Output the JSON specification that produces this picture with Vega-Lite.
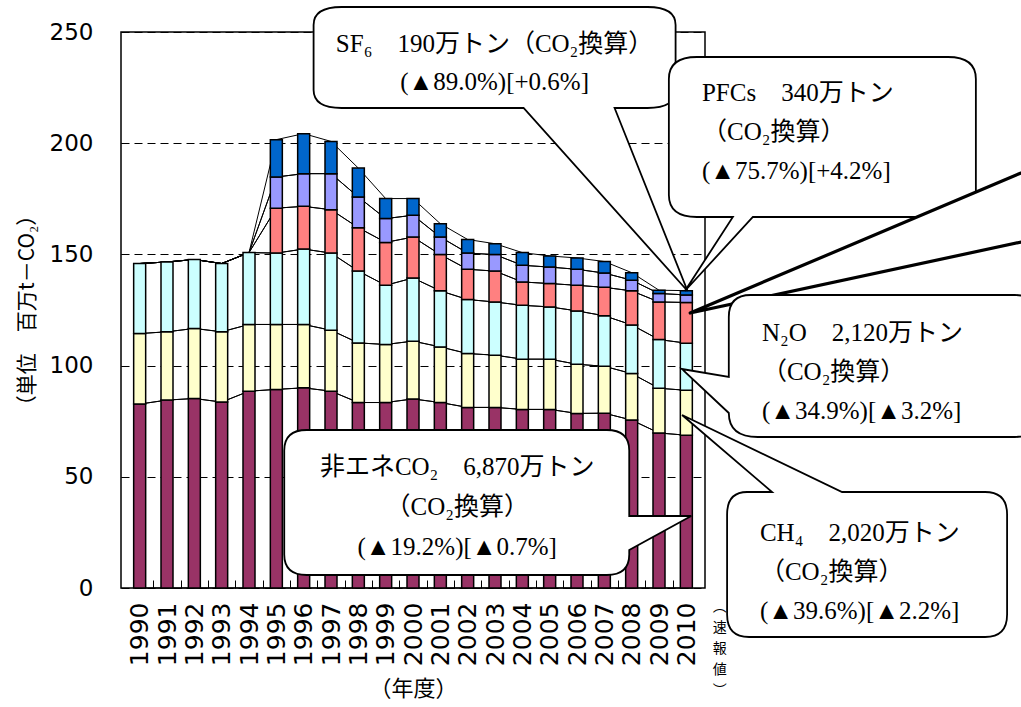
{
  "$schema": "https://vega.github.io/schema/vega-lite/v6.json",
  "width": 584,
  "height": 556,
  "autosize": {"type": "none"},
  "padding": {"left": 121, "top": 32, "right": 316, "bottom": 119},
  "background": "white",
  "config": {
    "view": {"stroke": "black", "strokeWidth": 1.5},
    "axis": {"labelColor": "black", "titleColor": "black", "tickColor": "black"}
  },
  "resolve": {"axis": {"x": "independent", "y": "independent"}},
  "datasets": {
    "ghg": [
      {"year": 1990, "g": "非エネCO₂", "k": 1, "v": 82.7}, {"year": 1990, "g": "CH₄", "k": 2, "v": 31.7}, {"year": 1990, "g": "N₂O", "k": 3, "v": 31.5},
      {"year": 1991, "g": "非エネCO₂", "k": 1, "v": 84.5}, {"year": 1991, "g": "CH₄", "k": 2, "v": 30.7}, {"year": 1991, "g": "N₂O", "k": 3, "v": 31.4},
      {"year": 1992, "g": "非エネCO₂", "k": 1, "v": 85.2}, {"year": 1992, "g": "CH₄", "k": 2, "v": 31.5}, {"year": 1992, "g": "N₂O", "k": 3, "v": 31.0},
      {"year": 1993, "g": "非エネCO₂", "k": 1, "v": 83.6}, {"year": 1993, "g": "CH₄", "k": 2, "v": 31.6}, {"year": 1993, "g": "N₂O", "k": 3, "v": 30.7},
      {"year": 1994, "g": "非エネCO₂", "k": 1, "v": 88.5}, {"year": 1994, "g": "CH₄", "k": 2, "v": 30.0}, {"year": 1994, "g": "N₂O", "k": 3, "v": 32.3},
      {"year": 1994, "g": "HFCs", "k": 4, "v": 0}, {"year": 1994, "g": "PFCs", "k": 5, "v": 0}, {"year": 1994, "g": "SF₆", "k": 6, "v": 0},
      {"year": 1995, "g": "非エネCO₂", "k": 1, "v": 89.3}, {"year": 1995, "g": "CH₄", "k": 2, "v": 29.2}, {"year": 1995, "g": "N₂O", "k": 3, "v": 32.1},
      {"year": 1995, "g": "HFCs", "k": 4, "v": 20.2}, {"year": 1995, "g": "PFCs", "k": 5, "v": 14.0}, {"year": 1995, "g": "SF₆", "k": 6, "v": 16.8},
      {"year": 1996, "g": "非エネCO₂", "k": 1, "v": 90.0}, {"year": 1996, "g": "CH₄", "k": 2, "v": 28.5}, {"year": 1996, "g": "N₂O", "k": 3, "v": 33.9},
      {"year": 1996, "g": "HFCs", "k": 4, "v": 19.2}, {"year": 1996, "g": "PFCs", "k": 5, "v": 14.7}, {"year": 1996, "g": "SF₆", "k": 6, "v": 18.0},
      {"year": 1997, "g": "非エネCO₂", "k": 1, "v": 88.5}, {"year": 1997, "g": "CH₄", "k": 2, "v": 27.4}, {"year": 1997, "g": "N₂O", "k": 3, "v": 34.7},
      {"year": 1997, "g": "HFCs", "k": 4, "v": 19.5}, {"year": 1997, "g": "PFCs", "k": 5, "v": 16.2}, {"year": 1997, "g": "SF₆", "k": 6, "v": 14.5},
      {"year": 1998, "g": "非エネCO₂", "k": 1, "v": 83.4}, {"year": 1998, "g": "CH₄", "k": 2, "v": 26.8}, {"year": 1998, "g": "N₂O", "k": 3, "v": 32.3},
      {"year": 1998, "g": "HFCs", "k": 4, "v": 19.5}, {"year": 1998, "g": "PFCs", "k": 5, "v": 13.8}, {"year": 1998, "g": "SF₆", "k": 6, "v": 13.0},
      {"year": 1999, "g": "非エネCO₂", "k": 1, "v": 83.4}, {"year": 1999, "g": "CH₄", "k": 2, "v": 26.1}, {"year": 1999, "g": "N₂O", "k": 3, "v": 26.6},
      {"year": 1999, "g": "HFCs", "k": 4, "v": 19.3}, {"year": 1999, "g": "PFCs", "k": 5, "v": 10.7}, {"year": 1999, "g": "SF₆", "k": 6, "v": 9.0},
      {"year": 2000, "g": "非エネCO₂", "k": 1, "v": 85.0}, {"year": 2000, "g": "CH₄", "k": 2, "v": 26.0}, {"year": 2000, "g": "N₂O", "k": 3, "v": 28.4},
      {"year": 2000, "g": "HFCs", "k": 4, "v": 18.4}, {"year": 2000, "g": "PFCs", "k": 5, "v": 9.8}, {"year": 2000, "g": "SF₆", "k": 6, "v": 7.5},
      {"year": 2001, "g": "非エネCO₂", "k": 1, "v": 83.4}, {"year": 2001, "g": "CH₄", "k": 2, "v": 25.0}, {"year": 2001, "g": "N₂O", "k": 3, "v": 25.2},
      {"year": 2001, "g": "HFCs", "k": 4, "v": 16.3}, {"year": 2001, "g": "PFCs", "k": 5, "v": 7.9}, {"year": 2001, "g": "SF₆", "k": 6, "v": 6.0},
      {"year": 2002, "g": "非エネCO₂", "k": 1, "v": 81.2}, {"year": 2002, "g": "CH₄", "k": 2, "v": 24.2}, {"year": 2002, "g": "N₂O", "k": 3, "v": 24.3},
      {"year": 2002, "g": "HFCs", "k": 4, "v": 13.6}, {"year": 2002, "g": "PFCs", "k": 5, "v": 7.3}, {"year": 2002, "g": "SF₆", "k": 6, "v": 6.1},
      {"year": 2003, "g": "非エネCO₂", "k": 1, "v": 81.2}, {"year": 2003, "g": "CH₄", "k": 2, "v": 23.5}, {"year": 2003, "g": "N₂O", "k": 3, "v": 23.9},
      {"year": 2003, "g": "HFCs", "k": 4, "v": 13.9}, {"year": 2003, "g": "PFCs", "k": 5, "v": 7.4}, {"year": 2003, "g": "SF₆", "k": 6, "v": 4.9},
      {"year": 2004, "g": "非エネCO₂", "k": 1, "v": 80.3}, {"year": 2004, "g": "CH₄", "k": 2, "v": 22.6}, {"year": 2004, "g": "N₂O", "k": 3, "v": 24.2},
      {"year": 2004, "g": "HFCs", "k": 4, "v": 10.5}, {"year": 2004, "g": "PFCs", "k": 5, "v": 7.5}, {"year": 2004, "g": "SF₆", "k": 6, "v": 5.7},
      {"year": 2005, "g": "非エネCO₂", "k": 1, "v": 80.3}, {"year": 2005, "g": "CH₄", "k": 2, "v": 22.6}, {"year": 2005, "g": "N₂O", "k": 3, "v": 23.5},
      {"year": 2005, "g": "HFCs", "k": 4, "v": 10.5}, {"year": 2005, "g": "PFCs", "k": 5, "v": 7.4}, {"year": 2005, "g": "SF₆", "k": 6, "v": 5.0},
      {"year": 2006, "g": "非エネCO₂", "k": 1, "v": 78.5}, {"year": 2006, "g": "CH₄", "k": 2, "v": 22.1}, {"year": 2006, "g": "N₂O", "k": 3, "v": 24.0},
      {"year": 2006, "g": "HFCs", "k": 4, "v": 11.5}, {"year": 2006, "g": "PFCs", "k": 5, "v": 7.2}, {"year": 2006, "g": "SF₆", "k": 6, "v": 5.1},
      {"year": 2007, "g": "非エネCO₂", "k": 1, "v": 78.6}, {"year": 2007, "g": "CH₄", "k": 2, "v": 21.1}, {"year": 2007, "g": "N₂O", "k": 3, "v": 22.7},
      {"year": 2007, "g": "HFCs", "k": 4, "v": 12.8}, {"year": 2007, "g": "PFCs", "k": 5, "v": 6.4}, {"year": 2007, "g": "SF₆", "k": 6, "v": 5.2},
      {"year": 2008, "g": "非エネCO₂", "k": 1, "v": 75.5}, {"year": 2008, "g": "CH₄", "k": 2, "v": 20.9}, {"year": 2008, "g": "N₂O", "k": 3, "v": 21.9},
      {"year": 2008, "g": "HFCs", "k": 4, "v": 15.3}, {"year": 2008, "g": "PFCs", "k": 5, "v": 4.8}, {"year": 2008, "g": "SF₆", "k": 6, "v": 3.4},
      {"year": 2009, "g": "非エネCO₂", "k": 1, "v": 69.7}, {"year": 2009, "g": "CH₄", "k": 2, "v": 20.1}, {"year": 2009, "g": "N₂O", "k": 3, "v": 21.9},
      {"year": 2009, "g": "HFCs", "k": 4, "v": 16.9}, {"year": 2009, "g": "PFCs", "k": 5, "v": 3.8}, {"year": 2009, "g": "SF₆", "k": 6, "v": 1.5},
      {"year": 2010, "g": "非エネCO₂", "k": 1, "v": 68.7}, {"year": 2010, "g": "CH₄", "k": 2, "v": 20.2}, {"year": 2010, "g": "N₂O", "k": 3, "v": 21.2},
      {"year": 2010, "g": "HFCs", "k": 4, "v": 18.3}, {"year": 2010, "g": "PFCs", "k": 5, "v": 3.4}, {"year": 2010, "g": "SF₆", "k": 6, "v": 1.9}
    ]
  },
  "layer": [
    {
      "data": {"name": "ghg"},
      "mark": {"type": "area", "fillOpacity": 0, "stroke": "black", "strokeWidth": 1},
      "encoding": {
        "x": {"field": "year", "type": "quantitative",
              "axis": {"orient": "bottom", "values": [1990.5,1991.5,1992.5,1993.5,1994.5,1995.5,1996.5,1997.5,1998.5,1999.5,2000.5,2001.5,2002.5,2003.5,2004.5,2005.5,2006.5,2007.5,2008.5,2009.5],
                       "labels": false, "domain": false, "grid": false, "ticks": true, "tickSize": -8, "tickWidth": 1, "title": null}},
        "y": {"field": "v", "type": "quantitative", "stack": "zero",
              "axis": {"orient": "left", "values": [50, 100, 150, 200], "labels": false, "domain": false, "grid": false, "ticks": true, "tickSize": -6, "tickWidth": 1, "title": null}},
        "detail": {"field": "k", "type": "ordinal"},
        "order": {"field": "k", "type": "quantitative"}
      }
    },
    {
      "data": {"name": "ghg"},
      "transform": [{"filter": "datum.v > 0"}],
      "mark": {"type": "bar", "size": 12, "stroke": "black", "strokeWidth": 1.5},
      "encoding": {
        "x": {"field": "year", "type": "quantitative",
              "scale": {"domain": [1989.5, 2010.5], "nice": false, "zero": false},
              "axis": {"orient": "bottom", "values": [1990,1991,1992,1993,1994,1995,1996,1997,1998,1999,2000,2001,2002,2003,2004,2005,2006,2007,2008,2009,2010],
                       "format": "d", "labelAngle": -90, "labelFlush": false, "labelOverlap": false, "labelFont": "DejaVu Sans", "labelFontSize": 25,
                       "labelPadding": 14, "ticks": false, "domain": false, "grid": false,
                       "title": "（年度）", "titleFont": "Noto Sans CJK JP", "titleFontSize": 22, "titleFontWeight": "normal", "titlePadding": 13}},
        "y": {"field": "v", "type": "quantitative", "stack": "zero",
              "scale": {"domain": [0, 250], "nice": false, "zero": true},
              "axis": {"orient": "left", "values": [0, 50, 100, 150, 200, 250], "labelFont": "DejaVu Sans", "labelFontSize": 23, "labelPadding": 28,
                       "ticks": false, "domain": false, "grid": true, "gridColor": "black", "gridDash": [8, 5], "gridWidth": 1,
                       "title": "（単位　百万t－CO₂）", "titleFont": "Noto Sans CJK JP", "titleFontSize": 21, "titleFontWeight": "normal", "titlePadding": 12}},
        "color": {"field": "g", "type": "nominal",
                  "scale": {"domain": ["非エネCO₂", "CH₄", "N₂O", "HFCs", "PFCs", "SF₆"],
                            "range": ["#993366", "#FFFFCC", "#CCFFFF", "#FF8080", "#9999FF", "#0066CC"]},
                  "legend": null},
        "order": {"field": "k", "type": "quantitative"}
      }
    },
    {
      "data": {"values": [{}]},
      "mark": {"type": "point", "size": 4, "filled": true, "fill": "white", "stroke": "black", "strokeWidth": 1.8, "opacity": 1,
               "shape": "M -153 -50.5 L 153 -50.5 Q 181 -50.5 181 -32.5 L 181 32.5 Q 181 50.5 153 50.5 L 120 50.5 L 193 233.5 L 29 50.5 L -153 50.5 Q -181 50.5 -181 32.5 L -181 -32.5 Q -181 -50.5 -153 -50.5 Z"},
      "encoding": {"x": {"datum": 2002.985, "type": "quantitative", "axis": null}, "y": {"datum": 238.53, "type": "quantitative", "axis": null}}
    },
    {
      "data": {"values": [{}]},
      "mark": {"type": "point", "size": 4, "filled": true, "fill": "white", "stroke": "black", "strokeWidth": 1.8, "opacity": 1,
               "shape": "M -125.5 -80 L 125.5 -80 Q 153.5 -80 153.5 -58 L 153.5 58 Q 153.5 80 125.5 80 L -69.5 80 L -137.5 154 L -89.5 80 L -125.5 80 Q -153.5 80 -153.5 58 L -153.5 -58 Q -153.5 -80 -125.5 -80 Z"},
      "encoding": {"x": {"datum": 2014.977, "type": "quantitative", "axis": null}, "y": {"datum": 202.79, "type": "quantitative", "axis": null}}
    },
    {
      "data": {"values": [{}]},
      "mark": {"type": "point", "size": 4, "filled": true, "fill": "white", "stroke": "black", "strokeWidth": 3.2, "strokeJoin": "round", "opacity": 1,
               "shape": "M 0 0 L 345 -146 L 345 -74 Z"},
      "encoding": {"x": {"datum": 2010.14, "type": "quantitative", "axis": null}, "y": {"datum": 123.65, "type": "quantitative", "axis": null}}
    },
    {
      "data": {"values": [{}]},
      "mark": {"type": "point", "size": 4, "filled": true, "fill": "white", "stroke": "black", "strokeWidth": 1.8, "opacity": 1,
               "shape": "M -132 -71 L 132 -71 Q 154 -71 154 -49 L 154 49 Q 154 71 132 71 L -125 71 Q -154 71 -154 47 L -201 3 L -154 11 L -154 -49 Q -154 -71 -132 -71 Z"},
      "encoding": {"x": {"datum": 2017.188, "type": "quantitative", "axis": null}, "y": {"datum": 99.82, "type": "quantitative", "axis": null}}
    },
    {
      "data": {"values": [{}]},
      "mark": {"type": "point", "size": 4, "filled": true, "fill": "white", "stroke": "black", "strokeWidth": 1.8, "opacity": 1,
               "shape": "M -120 -72.5 L -95 -72.5 L -185 -149.5 L -25 -72.5 L 118 -72.5 Q 140 -72.5 140 -50 L 140 50 Q 140 72.5 118 72.5 L -118 72.5 Q -140 72.5 -140 50 L -140 -50 Q -140 -72.5 -120 -72.5 Z"},
      "encoding": {"x": {"datum": 2016.613, "type": "quantitative", "axis": null}, "y": {"datum": 10.57, "type": "quantitative", "axis": null}}
    },
    {
      "data": {"values": [{}]},
      "mark": {"type": "point", "size": 4, "filled": true, "fill": "white", "stroke": "black", "strokeWidth": 1.8, "opacity": 1,
               "shape": "M -150 -72.5 L 150 -72.5 Q 172.5 -72.5 172.5 -52 L 172.5 13.5 L 234.5 13.5 L 172.5 47.5 L 172.5 52 Q 172.5 72.5 150 72.5 L -150 72.5 Q -172.5 72.5 -172.5 52 L -172.5 -52 Q -172.5 -72.5 -150 -72.5 Z"},
      "encoding": {"x": {"datum": 2001.6, "type": "quantitative", "axis": null}, "y": {"datum": 38.44, "type": "quantitative", "axis": null}}
    },
    {
      "data": {"values": [{}]},
      "mark": {"type": "text", "align": "center", "baseline": "middle", "fontSize": 25, "lineHeight": 38, "color": "black",
               "font": "'Liberation Serif', 'Noto Sans CJK JP', 'DejaVu Serif'",
               "text": ["SF₆　190万トン（CO₂換算）", "(▲89.0%)[+0.6%]"]},
      "encoding": {"x": {"datum": 2002.985, "type": "quantitative", "axis": null}, "y": {"datum": 244.6, "type": "quantitative", "axis": null}}
    },
    {
      "data": {"values": [{}]},
      "mark": {"type": "text", "align": "left", "baseline": "middle", "fontSize": 25, "lineHeight": 39, "color": "black",
               "font": "'Liberation Serif', 'Noto Sans CJK JP', 'DejaVu Serif'",
               "text": ["PFCs　340万トン", "（CO₂換算）", "(▲75.7%)[+4.2%]"]},
      "encoding": {"x": {"datum": 2010.572, "type": "quantitative", "axis": null}, "y": {"datum": 222.57, "type": "quantitative", "axis": null}}
    },
    {
      "data": {"values": [{}]},
      "mark": {"type": "text", "align": "left", "baseline": "middle", "fontSize": 25, "lineHeight": 39, "color": "black",
               "font": "'Liberation Serif', 'Noto Sans CJK JP', 'DejaVu Serif'",
               "text": ["N₂O　2,120万トン", "（CO₂換算）", "(▲34.9%)[▲3.2%]"]},
      "encoding": {"x": {"datum": 2012.765, "type": "quantitative", "axis": null}, "y": {"datum": 114.66, "type": "quantitative", "axis": null}}
    },
    {
      "data": {"values": [{}]},
      "mark": {"type": "text", "align": "left", "baseline": "middle", "fontSize": 25, "lineHeight": 39, "color": "black",
               "font": "'Liberation Serif', 'Noto Sans CJK JP', 'DejaVu Serif'",
               "text": ["CH₄　2,020万トン", "（CO₂換算）", "(▲39.6%)[▲2.2%]"]},
      "encoding": {"x": {"datum": 2012.693, "type": "quantitative", "axis": null}, "y": {"datum": 24.73, "type": "quantitative", "axis": null}}
    },
    {
      "data": {"values": [{}]},
      "mark": {"type": "text", "align": "center", "baseline": "middle", "fontSize": 25, "lineHeight": 40, "color": "black",
               "font": "'Liberation Serif', 'Noto Sans CJK JP', 'DejaVu Serif'",
               "text": ["非エネCO₂　6,870万トン", "（CO₂換算）", "(▲19.2%)[▲0.7%]"]},
      "encoding": {"x": {"datum": 2001.618, "type": "quantitative", "axis": null}, "y": {"datum": 54.41, "type": "quantitative", "axis": null}}
    },
    {
      "data": {"values": [{}]},
      "mark": {"type": "text", "align": "center", "baseline": "top", "fontSize": 14, "lineHeight": 21, "color": "black",
               "font": "Noto Sans CJK JP",
               "text": ["︵", "速", "報", "値", "︶"]},
      "encoding": {"x": {"datum": 2011.219, "type": "quantitative", "axis": null}, "y": {"datum": -5.4, "type": "quantitative", "axis": null}}
    }
  ]
}
